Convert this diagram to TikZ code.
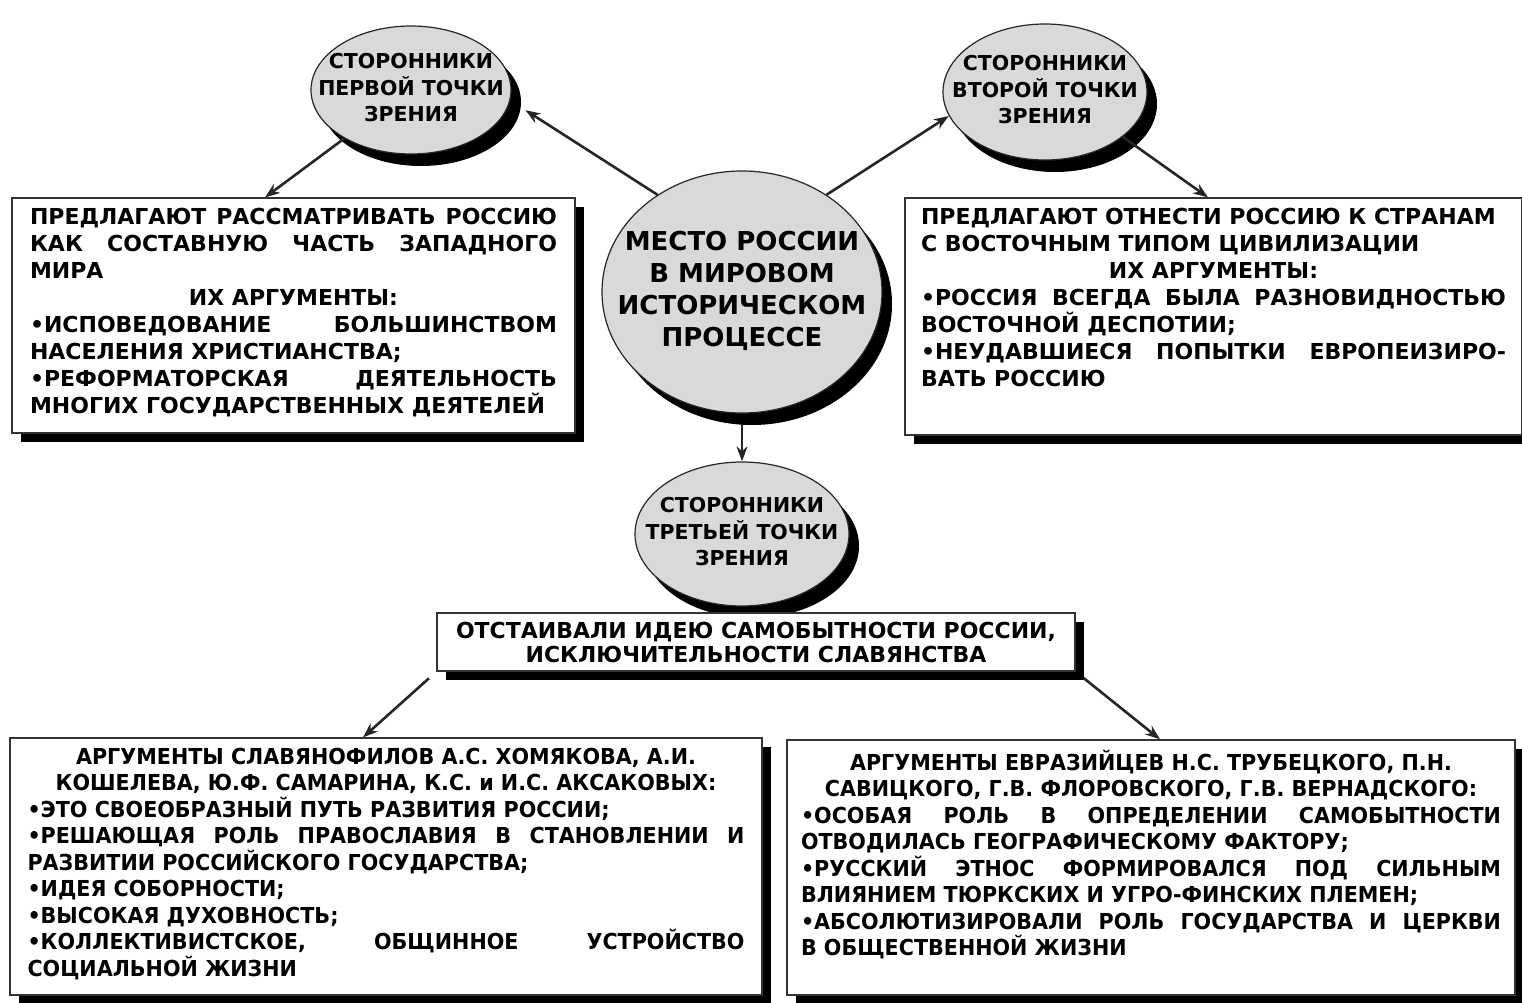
\documentclass[tikz,border=0pt]{standalone}
\usepackage{fontspec}
\setmainfont{DejaVu Sans}
\newfontfamily\narrowfont[FakeStretch=0.94]{DejaVu Sans}
\usetikzlibrary{shapes.geometric, arrows.meta, shadows, positioning}
\definecolor{ovalgray}{RGB}{217,217,217}

\newcommand{\fullline}[1]{\makebox[\linewidth][s]{#1}\par}
\newcommand{\lftline}[1]{\makebox[\linewidth][l]{#1}\par}
\newcommand{\midline}[1]{\makebox[\linewidth][c]{#1}\par}
\newcommand{\ovaltext}[1]{\makebox[0pt]{\begin{tabular}{@{}c@{}}#1\end{tabular}}}
\newcommand{\boxtext}[3]{\parbox[c][#1][t]{#2}{#3}}

\tikzset{
  oval/.style={ellipse, draw=black!85, line width=1.2pt, fill=ovalgray, inner sep=0pt,
    font=\fontsize{20.5}{26}\selectfont\bfseries,
    drop shadow={shadow xshift=10pt, shadow yshift=-12pt, fill=black, opacity=1}},
  card/.style={rectangle, draw=black!80, line width=1.2pt, fill=white, inner sep=8pt,
    drop shadow={shadow xshift=9pt, shadow yshift=-9pt, fill=black, opacity=1}},
  link/.style={-{Stealth[length=15pt, width=11pt]}, line width=2.6pt, draw=black!85},
}

\begin{document}
\begin{tikzpicture}[x=1pt, y=-1pt]
  \useasboundingbox (0,0) rectangle (1522,1002);

  \node[oval, minimum width=280pt, minimum height=242pt,
        font=\fontsize{26}{32}\selectfont\bfseries] (centre) at (742,292)
    {\ovaltext{МЕСТО РОССИИ\\В МИРОВОМ\\ИСТОРИЧЕСКОМ\\ПРОЦЕССЕ}};
  \node[oval, minimum width=200pt, minimum height=128pt] (svA) at (411,90)
    {\ovaltext{СТОРОННИКИ\\ПЕРВОЙ ТОЧКИ\\ЗРЕНИЯ}};
  \node[oval, minimum width=204pt, minimum height=136pt] (svB) at (1045,92)
    {\ovaltext{СТОРОННИКИ\\ВТОРОЙ ТОЧКИ\\ЗРЕНИЯ}};
  \node[oval, minimum width=214pt, minimum height=144pt] (svC) at (742,534)
    {\ovaltext{СТОРОННИКИ\\ТРЕТЬЕЙ ТОЧКИ\\ЗРЕНИЯ}};

  \node[card, inner xsep=18pt, inner ysep=10pt, font=\fontsize{22}{27}\selectfont\bfseries] (propW) at (293.5,315.5)
    {\boxtext{215pt}{527pt}{%
      \fullline{ПРЕДЛАГАЮТ РАССМАТРИВАТЬ РОССИЮ}
      \fullline{КАК СОСТАВНУЮ ЧАСТЬ ЗАПАДНОГО}
      \lftline{МИРА}
      \midline{ИХ АРГУМЕНТЫ:}
      \fullline{•ИСПОВЕДОВАНИЕ БОЛЬШИНСТВОМ}
      \lftline{НАСЕЛЕНИЯ ХРИСТИАНСТВА;}
      \fullline{•РЕФОРМАТОРСКАЯ ДЕЯТЕЛЬНОСТЬ}
      \lftline{МНОГИХ ГОСУДАРСТВЕННЫХ ДЕЯТЕЛЕЙ}}};
  \node[card, inner xsep=16pt, inner ysep=10pt, font=\fontsize{22}{27}\selectfont\bfseries] (propE) at (1213.5,316.5)
    {\boxtext{217pt}{585pt}{%
      \lftline{ПРЕДЛАГАЮТ ОТНЕСТИ РОССИЮ К СТРАНАМ}
      \lftline{С ВОСТОЧНЫМ ТИПОМ ЦИВИЛИЗАЦИИ}
      \midline{ИХ АРГУМЕНТЫ:}
      \fullline{•РОССИЯ ВСЕГДА БЫЛА РАЗНОВИДНОСТЬЮ}
      \lftline{ВОСТОЧНОЙ ДЕСПОТИИ;}
      \fullline{•НЕУДАВШИЕСЯ ПОПЫТКИ ЕВРОПЕИЗИРО-}
      \lftline{ВАТЬ РОССИЮ}}};

  \node[card, minimum width=638pt, minimum height=58pt, inner sep=4pt, align=center,
        font=\fontsize{22}{24}\selectfont\bfseries] (idea) at (756,642)
    {ОТСТАИВАЛИ ИДЕЮ САМОБЫТНОСТИ РОССИИ,\\ИСКЛЮЧИТЕЛЬНОСТИ СЛАВЯНСТВА};

  \node[card, inner xsep=17.5pt, inner ysep=10pt, font=\narrowfont\fontsize{22}{26.5}\selectfont\bfseries] (slav) at (386,866.5)
    {\boxtext{237pt}{717pt}{%
      \midline{АРГУМЕНТЫ СЛАВЯНОФИЛОВ А.С. ХОМЯКОВА, А.И.}
      \midline{КОШЕЛЕВА, Ю.Ф. САМАРИНА, К.С. и И.С. АКСАКОВЫХ:}
      \lftline{•ЭТО СВОЕОБРАЗНЫЙ ПУТЬ РАЗВИТИЯ РОССИИ;}
      \fullline{•РЕШАЮЩАЯ РОЛЬ ПРАВОСЛАВИЯ В СТАНОВЛЕНИИ И}
      \lftline{РАЗВИТИИ РОССИЙСКОГО ГОСУДАРСТВА;}
      \lftline{•ИДЕЯ СОБОРНОСТИ;}
      \lftline{•ВЫСОКАЯ ДУХОВНОСТЬ;}
      \fullline{•КОЛЛЕКТИВИСТСКОЕ, ОБЩИННОЕ УСТРОЙСТВО}
      \lftline{СОЦИАЛЬНОЙ ЖИЗНИ}}};
  \node[card, inner xsep=14pt, inner ysep=10pt, font=\narrowfont\fontsize{22}{26.5}\selectfont\bfseries] (eura) at (1151,867.5)
    {\boxtext{235pt}{700pt}{%
      \midline{АРГУМЕНТЫ ЕВРАЗИЙЦЕВ Н.С. ТРУБЕЦКОГО, П.Н.}
      \midline{САВИЦКОГО, Г.В. ФЛОРОВСКОГО, Г.В. ВЕРНАДСКОГО:}
      \fullline{•ОСОБАЯ РОЛЬ В ОПРЕДЕЛЕНИИ САМОБЫТНОСТИ}
      \lftline{ОТВОДИЛАСЬ ГЕОГРАФИЧЕСКОМУ ФАКТОРУ;}
      \fullline{•РУССКИЙ ЭТНОС ФОРМИРОВАЛСЯ ПОД СИЛЬНЫМ}
      \lftline{ВЛИЯНИЕМ ТЮРКСКИХ И УГРО-ФИНСКИХ ПЛЕМЕН;}
      \fullline{•АБСОЛЮТИЗИРОВАЛИ РОЛЬ ГОСУДАРСТВА И ЦЕРКВИ}
      \lftline{В ОБЩЕСТВЕННОЙ ЖИЗНИ}}};

  \draw[link, shorten >=18pt] (centre.131) -- (svA.-6);
  \draw[link] (centre.49) -- (svB.194);
  \draw[link] (svA.216) -- (propW.north -| 265,0);
  \draw[link] (svB.-30) -- (propE.north -| 1208,0);
  \draw[link, shorten <=10pt] (centre.south) -- (svC.north);
  \draw[link, shorten <=10pt] (idea.south west) -- (slav.north -| 363,0);
  \draw[link, shorten <=10pt] (idea.south east) -- (eura.north -| 1160,0);
\end{tikzpicture}
\end{document}
